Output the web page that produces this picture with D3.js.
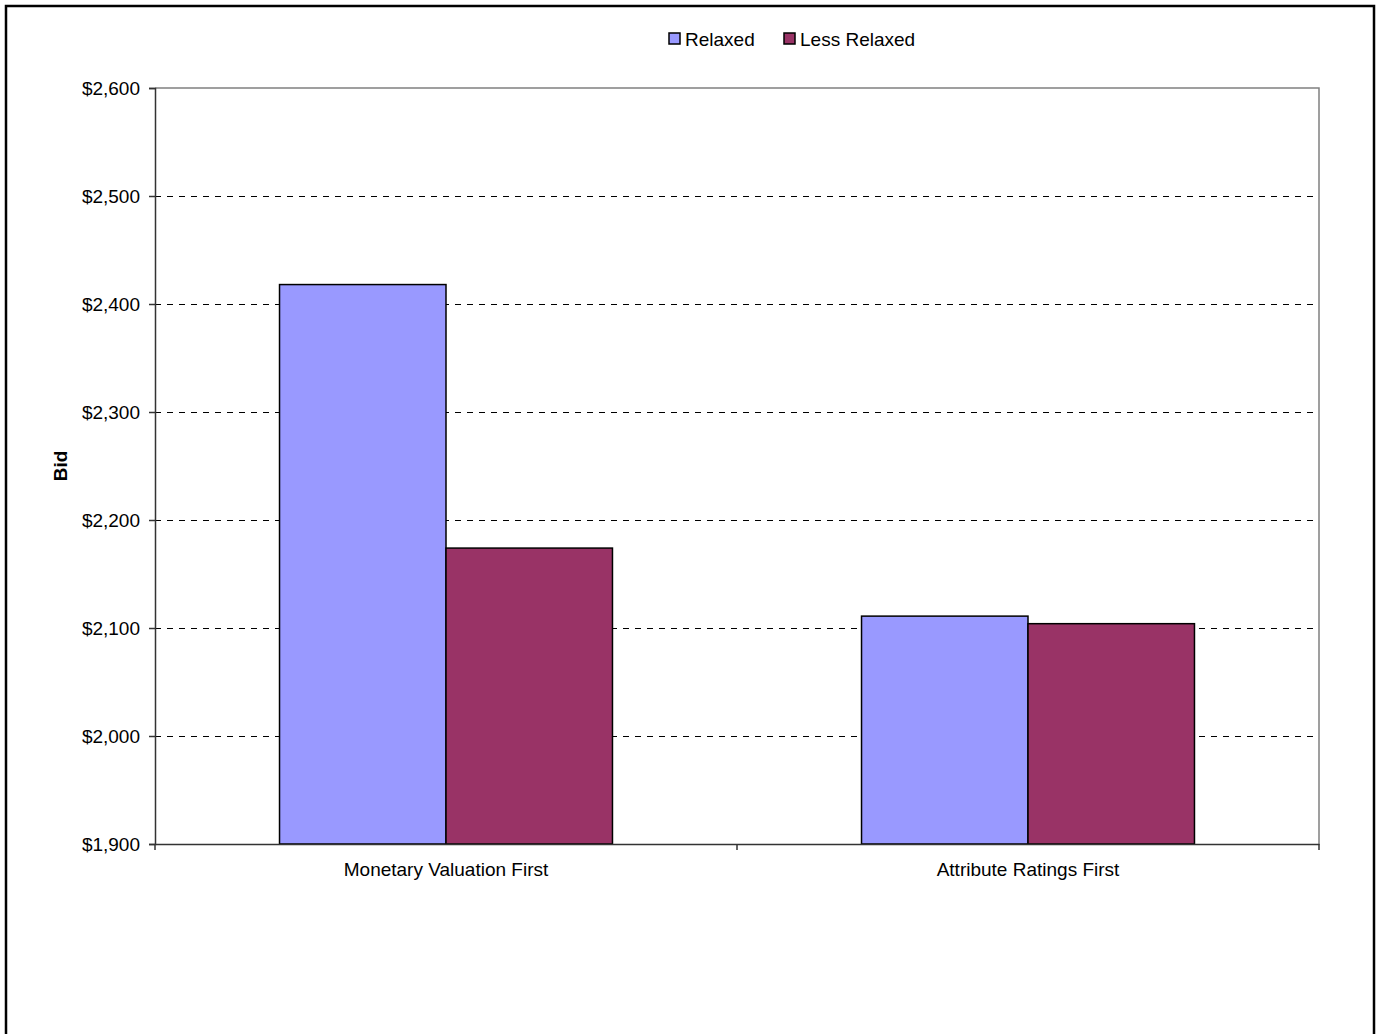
<!DOCTYPE html>
<html>
<head>
<meta charset="utf-8">
<script src="https://cdn.jsdelivr.net/npm/d3@7"></script>
<style>
  body { margin: 0; background: #fff; }
  svg text { font-family: "Liberation Sans", Arial, sans-serif; }
</style>
</head>
<body>
<div id="chart"></div>
<script>
// data
const categories = ["Monetary Valuation First", "Attribute Ratings First"]
const seriesNames = ["Relaxed", "Less Relaxed"]
const relaxed = [2418, 2111]
const lessRelaxed = [2174, 2104]
const yTicks = [1900, 2000, 2100, 2200, 2300, 2400, 2500, 2600]

const colors = ["#9999FF", "#993366"]
const W = 1380, H = 1034
const margin = { top: 88, right: 61, bottom: 190, left: 155 }
const width = W - margin.left - margin.right
const height = H - margin.top - margin.bottom
const fs = 19

const svg = d3.select("#chart").append("svg")
    .attr("width", W)
    .attr("height", H)

// outer frame
svg.append("rect")
    .attr("x", 6).attr("y", 6)
    .attr("width", 1368).attr("height", 1040)
    .attr("fill", "none")
    .attr("stroke", "#000")
    .attr("stroke-width", 2.5)

const g = svg.append("g")
    .attr("transform", "translate(" + margin.left + "," + margin.top + ")")

const xScale = d3.scaleBand().domain(categories).range([0, width])
const xInner = d3.scaleBand().domain(seriesNames)
    .range([0, xScale.bandwidth()]).paddingOuter(0.748).paddingInner(0)
const yScale = d3.scaleLinear().domain([1900, 2600]).range([height, 0])

// plot frame (top/right)
g.append("path")
    .attr("d", "M0,0H" + width + "V" + height)
    .attr("fill", "none")
    .attr("stroke", "#808080")
    .attr("stroke-width", 1.5)

// gridlines
g.selectAll("line.grid")
    .data(yTicks.filter(d => d > 1900 && d < 2600))
    .join("line")
    .attr("class", "grid")
    .attr("x1", 0).attr("x2", width)
    .attr("y1", d => Math.round(yScale(d)) + 0.5)
    .attr("y2", d => Math.round(yScale(d)) + 0.5)
    .attr("stroke", "#000")
    .attr("stroke-dasharray", "6,6")

// bars
const rows = categories.map((c, i) => ({ cat: c, vals: [relaxed[i], lessRelaxed[i]] }))
const groups = g.selectAll("g.grp")
    .data(rows)
    .join("g")
    .attr("class", "grp")
    .attr("transform", d => "translate(" + xScale(d.cat) + ",0)")

groups.selectAll("rect")
    .data(d => d.vals.map((v, j) => ({ name: seriesNames[j], value: v, j: j })))
    .join("rect")
    .attr("x", d => xInner(d.name))
    .attr("y", d => yScale(d.value))
    .attr("width", xInner.bandwidth())
    .attr("height", d => height - yScale(d.value))
    .attr("fill", d => colors[d.j])
    .attr("stroke", "#000")
    .attr("stroke-width", 1.5)

// y axis
const yAxis = d3.axisLeft(yScale)
    .tickValues(yTicks)
    .tickSize(6)
    .tickPadding(9)
    .tickFormat(d => "$" + d3.format(",")(d))
const yG = g.append("g").call(yAxis)
yG.select(".domain").attr("stroke", "#333").attr("stroke-width", 1.5)
yG.selectAll(".tick line").attr("stroke", "#333").attr("stroke-width", 1.5)
yG.selectAll(".tick text")
    .attr("font-size", fs)
    .attr("fill", "#000")
    .style("font-family", "'Liberation Sans', Arial, sans-serif")

// x axis
const xAxis = d3.axisBottom(xScale).tickSize(0).tickPadding(19)
const xG = g.append("g")
    .attr("transform", "translate(0," + height + ")")
    .call(xAxis)
xG.select(".domain").attr("stroke", "#333").attr("stroke-width", 1.5)
xG.selectAll(".tick text")
    .attr("font-size", fs)
    .attr("fill", "#000")
    .style("font-family", "'Liberation Sans', Arial, sans-serif")
// category boundary ticks
g.selectAll("line.xb")
    .data([0, 1, 2])
    .join("line")
    .attr("class", "xb")
    .attr("x1", d => d * xScale.step())
    .attr("x2", d => d * xScale.step())
    .attr("y1", height).attr("y2", height + 6)
    .attr("stroke", "#333")
    .attr("stroke-width", 1.5)

// y label
svg.append("text")
    .attr("transform", "translate(67," + (margin.top + height / 2) + ") rotate(-90)")
    .attr("text-anchor", "middle")
    .attr("font-size", fs)
    .attr("font-weight", "bold")
    .text("Bid")

// legend
const legendX = [669, 784]
const legend = svg.selectAll("g.leg")
    .data(seriesNames)
    .join("g")
    .attr("class", "leg")
    .attr("transform", (d, i) => "translate(" + legendX[i] + ",33)")
legend.append("rect")
    .attr("width", 11).attr("height", 11)
    .attr("fill", (d, i) => colors[i])
    .attr("stroke", "#000")
    .attr("stroke-width", 1.5)
legend.append("text")
    .attr("x", 16).attr("y", 13)
    .attr("font-size", fs)
    .text(d => d)
</script>
</body>
</html>
